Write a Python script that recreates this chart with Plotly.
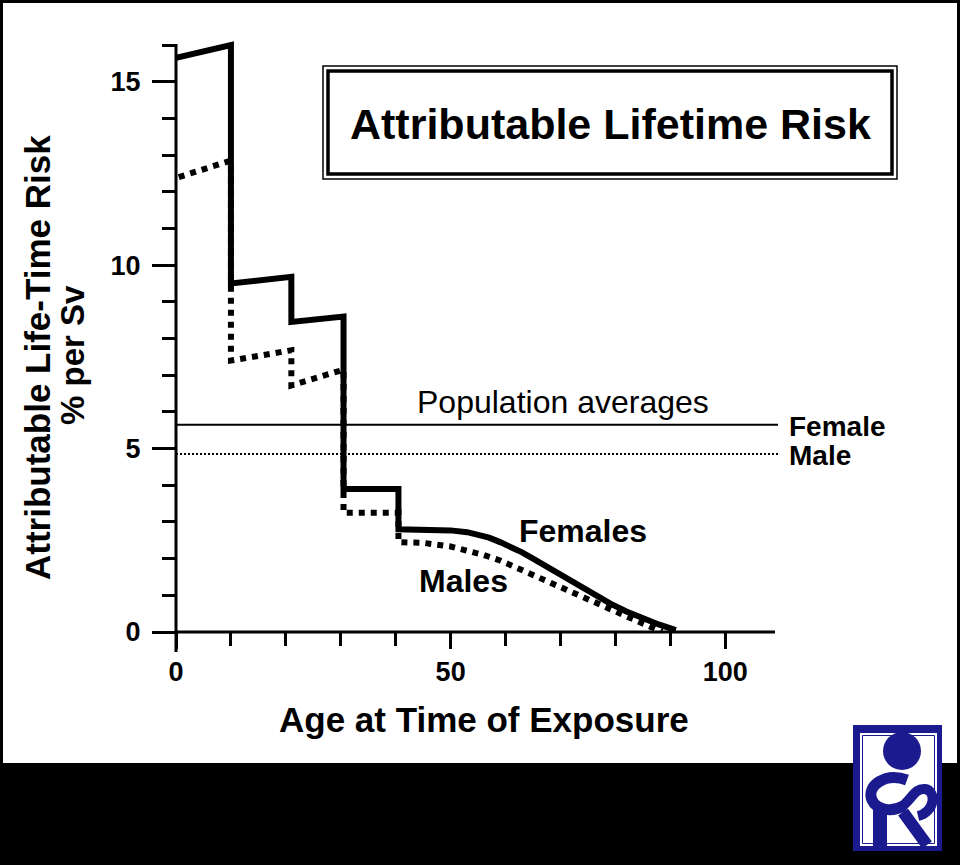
import plotly.graph_objects as go

# ---- data ----
female_age = [0, 10, 10, 21, 21, 30.5, 30.5, 40.5, 40.5, 45, 50, 53, 55, 57, 59, 61, 63, 65, 67,
              70, 73, 76, 79, 82, 85, 88, 91]
female_risk = [15.65, 16.0, 9.5, 9.68, 8.45, 8.6, 3.9, 3.9, 2.8, 2.8, 2.77, 2.72, 2.66, 2.57, 2.45, 2.32, 2.17,
               2.0, 1.82, 1.55, 1.28, 1.02, 0.78, 0.56, 0.37, 0.2, 0.05]

male_age = [0.5, 10, 10, 21, 21, 30.5, 30.5, 40.5, 40.5, 45, 50, 53, 56, 59, 62, 65, 68, 71, 74, 77,
            80, 83, 86, 88.5]
male_risk = [12.4, 12.85, 7.4, 7.68, 6.72, 7.15, 3.25, 3.25, 2.45, 2.43, 2.33, 2.22, 2.1, 1.95, 1.75, 1.56,
             1.38, 1.18, 0.97, 0.77, 0.56, 0.36, 0.17, 0.0]

pop_avg_female = 5.65
pop_avg_male = 4.85
pop_line_x = [0, 109.6]

x_major_ticks = [0, 50, 100]
x_minor_ticks = [10, 20, 30, 40, 60, 70, 80, 90]
y_major_ticks = [0, 5, 10, 15]
y_minor_ticks = [1, 2, 3, 4, 6, 7, 8, 9, 11, 12, 13, 14, 16]

title_text = "Attributable Lifetime Risk"
x_title = "Age at Time of Exposure"
y_title_1 = "Attributable Life-Time Risk"
y_title_2 = "% per Sv"

# ---- layout helpers (pixel -> paper) ----
W, H = 960, 865
L, R, T, B = 176, 182, 34, 233
PW, PH = W - L - R, H - T - B


def px(x):
    return (x - L) / PW


def py(y):
    return (H - B - y) / PH


FONT = "Liberation Sans, Arial, Helvetica, sans-serif"
BLUE = "#1b1b8f"

fig = go.Figure()

fig.add_trace(go.Scatter(x=pop_line_x, y=[pop_avg_female] * 2, mode="lines",
                         line=dict(color="black", width=2), hoverinfo="skip"))
fig.add_trace(go.Scatter(x=pop_line_x, y=[pop_avg_male] * 2, mode="lines",
                         line=dict(color="black", width=2, dash="2px,2px"), hoverinfo="skip"))
fig.add_trace(go.Scatter(x=male_age, y=male_risk, mode="lines", name="Males",
                         line=dict(color="black", width=6, dash="dot")))
fig.add_trace(go.Scatter(x=female_age, y=female_risk, mode="lines", name="Females",
                         line=dict(color="black", width=6)))

shapes = []
# white page area over black background
shapes.append(dict(type="rect", xref="paper", yref="paper", x0=px(3), x1=px(957), y0=py(763), y1=py(3),
                   fillcolor="white", line=dict(width=0), layer="below"))
# axis lines
shapes.append(dict(type="line", xref="paper", yref="paper", x0=px(176), x1=px(775), y0=0, y1=0,
                   line=dict(color="black", width=3)))
shapes.append(dict(type="line", xref="paper", yref="paper", x0=0, x1=0, y0=py(652), y1=py(44),
                   line=dict(color="black", width=3)))
# title box (double border)
shapes.append(dict(type="rect", xref="paper", yref="paper", x0=px(323), x1=px(897), y0=py(179), y1=py(66),
                   line=dict(color="black", width=1.5)))
shapes.append(dict(type="rect", xref="paper", yref="paper", x0=px(328), x1=px(892), y0=py(174), y1=py(71),
                   line=dict(color="black", width=3.5)))


def path_px(cmds):
    out = []
    for c in cmds:
        if isinstance(c, str):
            out.append(c)
        else:
            out.append("%.5f,%.5f" % (px(c[0]), py(c[1])))
    return " ".join(out)


# logo
shapes.append(dict(type="rect", xref="paper", yref="paper", x0=px(853), x1=px(942), y0=py(851), y1=py(725),
                   fillcolor=BLUE, line=dict(width=0), layer="above"))
shapes.append(dict(type="rect", xref="paper", yref="paper", x0=px(860), x1=px(937), y0=py(846), y1=py(733),
                   fillcolor="white", line=dict(width=0), layer="above"))
shapes.append(dict(type="rect", xref="paper", yref="paper", x0=px(862.5), x1=px(934.5), y0=py(843.5), y1=py(735.5),
                   fillcolor="rgba(0,0,0,0)", line=dict(color=BLUE, width=1), layer="above"))
shapes.append(dict(type="circle", xref="paper", yref="paper", x0=px(883), x1=px(921), y0=py(770), y1=py(732),
                   fillcolor=BLUE, line=dict(width=0), layer="above"))
shapes.append(dict(type="rect", xref="paper", yref="paper", x0=px(873), x1=px(887), y0=py(846), y1=py(806),
                   fillcolor=BLUE, line=dict(width=0), layer="above"))
shapes.append(dict(type="path", xref="paper", yref="paper", layer="above",
                   path=path_px(["M", (907, 780), "C", (885, 772), (866, 786), (872, 800),
                                 "C", (877, 811), (893, 812), (903, 806)]),
                   line=dict(color=BLUE, width=11)))
shapes.append(dict(type="path", xref="paper", yref="paper", layer="above",
                   path=path_px(["M", (900, 808), "C", (912, 800), (914, 788), (925, 789),
                                 "C", (937, 791), (935, 812), (918, 816)]),
                   line=dict(color=BLUE, width=10)))
shapes.append(dict(type="path", xref="paper", yref="paper", layer="above",
                   path=path_px(["M", (903, 812), "L", (927, 845)]),
                   line=dict(color=BLUE, width=12)))

annotations = []


def ann(text, x, y, size, bold=True, angle=0, xanchor="center"):
    annotations.append(dict(text=text, x=px(x), y=py(y), xref="paper", yref="paper",
                            showarrow=False, xanchor=xanchor, yanchor="middle", textangle=angle,
                            font=dict(family=FONT, size=size, color="black",
                                      weight="bold" if bold else "normal")))


ann(title_text, 610, 124, 43)
ann("Population averages", 563, 402, 32, bold=False)
ann("Female", 787, 426, 28, xanchor="left")
ann("Male", 787, 455, 28, xanchor="left")
ann("Females", 583, 531, 32)
ann("Males", 463, 581, 32)
ann(x_title, 484, 719, 35)
ann(y_title_1, 37, 358, 35, angle=-90)
ann(y_title_2, 72, 355, 33, angle=-90)

tickfont = dict(family=FONT, size=27, color="black", weight="bold")

fig.update_layout(
    width=W, height=H,
    margin=dict(l=L, r=R, t=T, b=B, pad=0),
    paper_bgcolor="black",
    plot_bgcolor="rgba(0,0,0,0)",
    showlegend=False,
    shapes=shapes,
    annotations=annotations,
    xaxis=dict(range=[0, 109.6], showgrid=False, zeroline=False, showline=False,
               tickmode="array", tickvals=x_major_ticks, ticktext=[str(v) for v in x_major_ticks],
               ticks="outside", ticklen=16, tickwidth=3, tickcolor="black",
               minor=dict(tickmode="array", tickvals=x_minor_ticks, ticks="outside",
                          ticklen=13, tickwidth=3, tickcolor="black", showgrid=False),
               tickfont=tickfont, ticklabelstandoff=0, fixedrange=True),
    yaxis=dict(range=[0, 16.3], showgrid=False, zeroline=False, showline=False,
               tickmode="array", tickvals=y_major_ticks, ticktext=[str(v) for v in y_major_ticks],
               ticks="outside", ticklen=23, tickwidth=3, tickcolor="black",
               minor=dict(tickmode="array", tickvals=y_minor_ticks, ticks="outside",
                          ticklen=13, tickwidth=3, tickcolor="black", showgrid=False),
               tickfont=tickfont, ticklabelstandoff=6, fixedrange=True),
)

fig.write_html("out.html", config={"displayModeBar": False},
               post_script="document.body.style.margin='0px';document.body.style.overflow='hidden';")
